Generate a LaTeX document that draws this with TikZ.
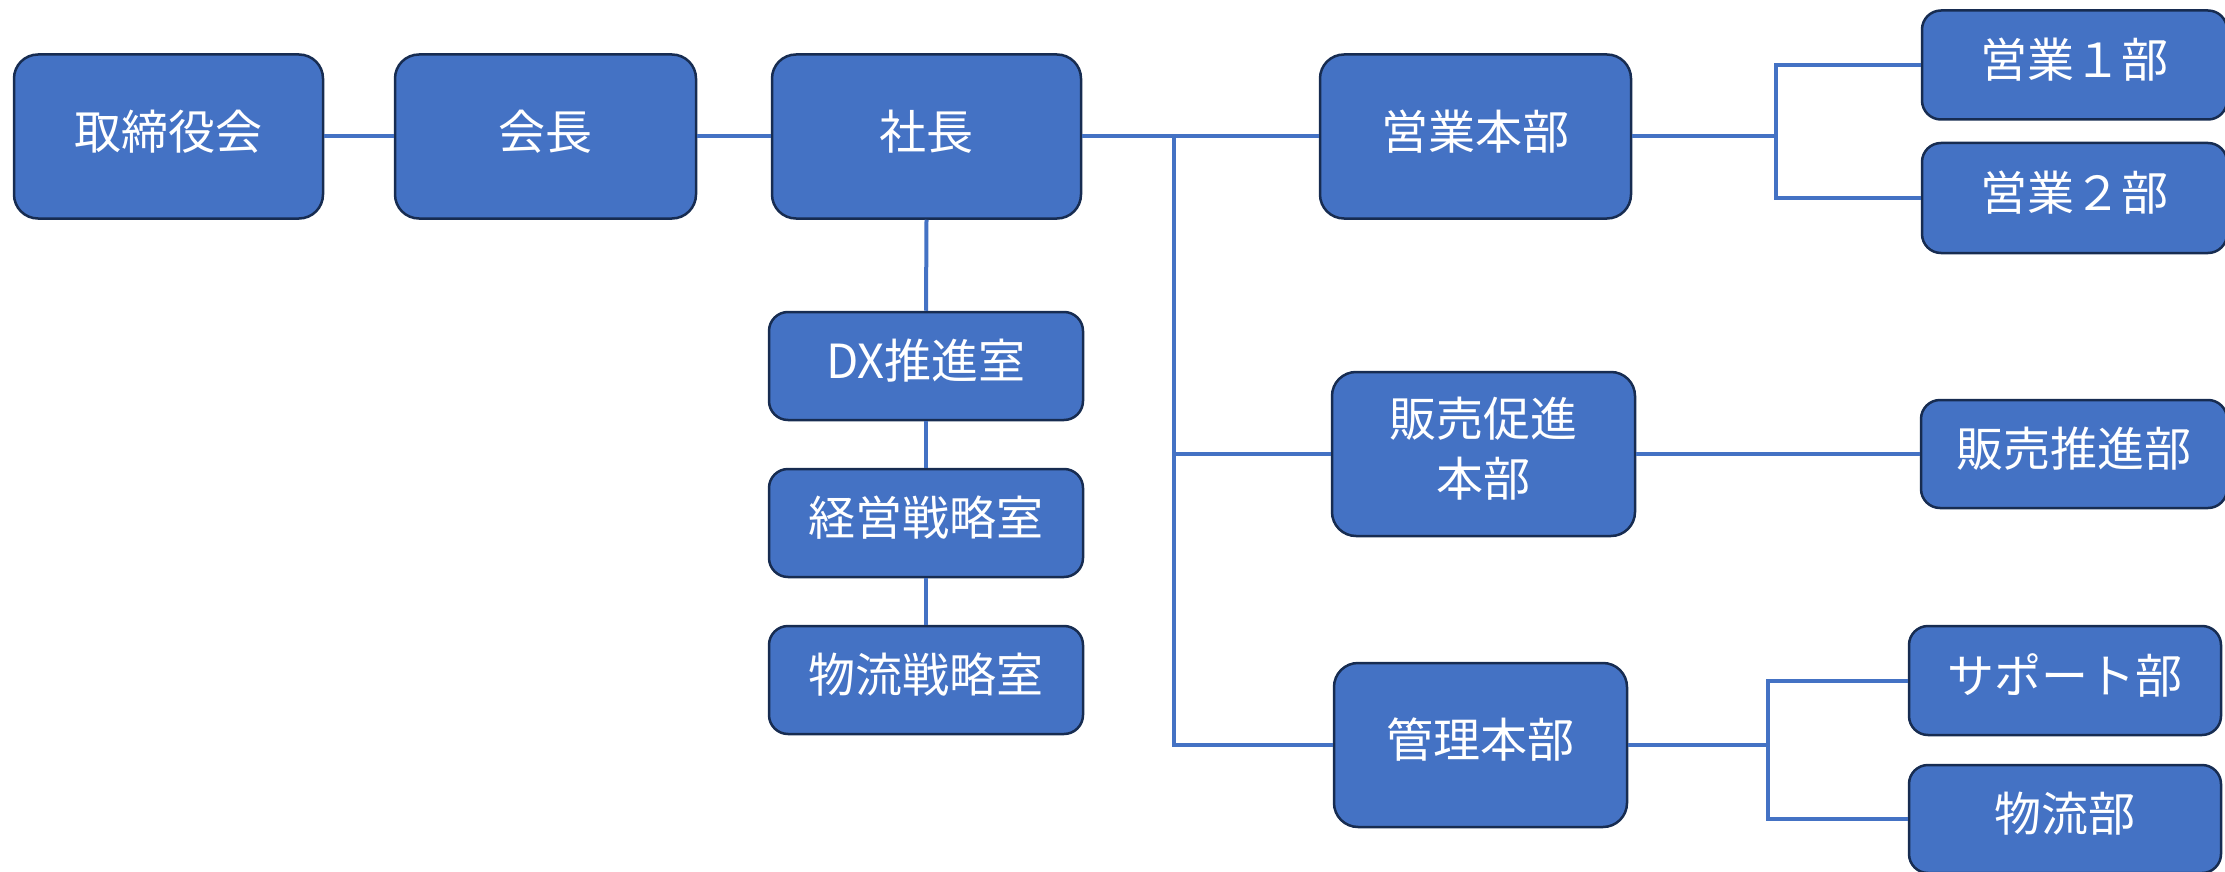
\documentclass[tikz,border=0pt]{standalone}
\usepackage{fontspec}
\newfontfamily\jp{Noto Sans CJK JP}
\definecolor{boxfill}{HTML}{4472C4}
\definecolor{boxline}{HTML}{172C51}
\definecolor{conn}{HTML}{4472C4}
\newcommand\upt[1]{\raisebox{5pt}[\height][\depth]{#1}}
\begin{document}
\begin{tikzpicture}[x=1pt,y=-1pt,
  org/.style={rectangle, rounded corners=24pt, fill=boxfill, draw=boxline, line width=2.5pt,
    text=white, font=\jp\fontsize{47}{60}\selectfont, inner sep=0pt, align=center,
    minimum height=164pt},
  sub/.style={org, rounded corners=19pt, minimum height=108pt},
  link/.style={draw=conn, line width=4pt}]
\useasboundingbox (0,0) rectangle (2225,872);
\node[org, minimum width=309pt] (tori) at (168.5,136.5) {\upt{取締役会}};
\node[org, minimum width=301pt] (kaicho) at (545.5,136.5) {\upt{会長}};
\node[org, minimum width=309pt] (shacho) at (926.5,136.5) {\upt{社長}};
\node[sub, minimum width=314pt] (dx) at (926,366) {\upt{DX推進室}};
\node[sub, minimum width=314pt] (keiei) at (926,523) {\upt{経営戦略室}};
\node[sub, minimum width=314pt] (bsen) at (926,680) {\upt{物流戦略室}};
\node[org, minimum width=311pt] (eigyo) at (1475.5,136.5) {\upt{営業本部}};
\node[org, minimum width=303pt] (hanbai) at (1483.5,454) {\upt{販売促進}\\\upt{本部}};
\node[org, minimum width=293pt] (kanri) at (1480.5,745) {\upt{管理本部}};
\node[sub, minimum width=305pt, minimum height=109pt] (e1) at (2074.5,65) {\upt{営業１部}};
\node[sub, minimum width=305pt, minimum height=110pt] (e2) at (2074.5,198) {\upt{営業２部}};
\node[sub, minimum width=306pt] (hs) at (2074,454) {\upt{販売推進部}};
\node[sub, minimum width=312pt, minimum height=109pt] (sup) at (2065,680.5) {\upt{サポート部}};
\node[sub, minimum width=312pt] (butsu) at (2065,819) {\upt{物流部}};
\coordinate (trunk) at (1174,136.5);
\coordinate (eb) at (1776,136.5);
\coordinate (kb) at (1768,745);
\draw[link] (tori.east) -- (kaicho.west);
\draw[link] (kaicho.east) -- (shacho.west);
\draw[link] (shacho.south) -- (dx.north);
\draw[link] (dx.south) -- (keiei.north);
\draw[link] (keiei.south) -- (bsen.north);
\draw[link] (shacho.east) -- (eigyo.west);
\draw[link] (trunk) |- (kanri.west);
\draw[link] (trunk |- hanbai.west) -- (hanbai.west);
\draw[link] (eigyo.east) -- (eb);
\draw[link] (eb) |- (e1.west);
\draw[link] (eb) |- (e2.west);
\draw[link] (hanbai.east) -- (hs.west);
\draw[link] (kanri.east) -- (kb);
\draw[link] (kb) |- (sup.west);
\draw[link] (kb) |- (butsu.west);
\end{tikzpicture}
\end{document}
